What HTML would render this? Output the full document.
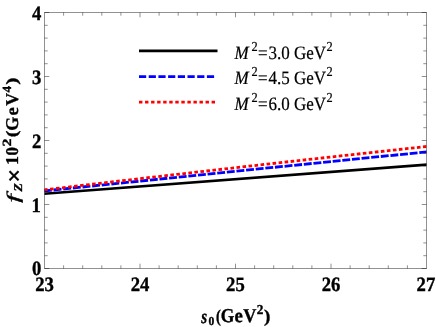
<!DOCTYPE html>
<html><head><meta charset="utf-8"><title>plot</title>
<style>
html,body{margin:0;padding:0;background:#fff;}
body{width:436px;height:327px;position:relative;overflow:hidden;font-family:"Liberation Serif",serif;}
</style></head><body>
<svg width="436" height="327" viewBox="0 0 436 327" style="position:absolute;left:0;top:0;will-change:transform">
<defs><clipPath id="c"><rect x="44.5" y="12.5" width="382.0" height="256.0"/></clipPath></defs>
<g clip-path="url(#c)" fill="none">
<path d="M44,193.75 Q235.75,178.4 427.5,164.6" stroke="#000" stroke-width="2.7"/>
<path d="M44,191.0 Q235.75,171.1 427.5,151.8" stroke="#0000ff" stroke-width="2.8" stroke-dasharray="7.9 1.773"/>
<path d="M44,189.9 Q235.75,167.2 427.5,146.4" stroke="#ff0000" stroke-width="2.8" stroke-dasharray="3.6 2.454"/>
</g>
<g stroke="#000" stroke-opacity="0.43" stroke-width="1" fill="none">
<rect x="44.5" y="12.5" width="382.0" height="256.0" shape-rendering="crispEdges"/>
<line x1="63.60" y1="268.5" x2="63.60" y2="265.3"/>
<line x1="63.60" y1="12.5" x2="63.60" y2="15.7"/>
<line x1="82.70" y1="268.5" x2="82.70" y2="265.3"/>
<line x1="82.70" y1="12.5" x2="82.70" y2="15.7"/>
<line x1="101.80" y1="268.5" x2="101.80" y2="265.3"/>
<line x1="101.80" y1="12.5" x2="101.80" y2="15.7"/>
<line x1="120.90" y1="268.5" x2="120.90" y2="265.3"/>
<line x1="120.90" y1="12.5" x2="120.90" y2="15.7"/>
<line x1="140.00" y1="268.5" x2="140.00" y2="263.7"/>
<line x1="140.00" y1="12.5" x2="140.00" y2="17.3"/>
<line x1="159.10" y1="268.5" x2="159.10" y2="265.3"/>
<line x1="159.10" y1="12.5" x2="159.10" y2="15.7"/>
<line x1="178.20" y1="268.5" x2="178.20" y2="265.3"/>
<line x1="178.20" y1="12.5" x2="178.20" y2="15.7"/>
<line x1="197.30" y1="268.5" x2="197.30" y2="265.3"/>
<line x1="197.30" y1="12.5" x2="197.30" y2="15.7"/>
<line x1="216.40" y1="268.5" x2="216.40" y2="265.3"/>
<line x1="216.40" y1="12.5" x2="216.40" y2="15.7"/>
<line x1="235.50" y1="268.5" x2="235.50" y2="263.7"/>
<line x1="235.50" y1="12.5" x2="235.50" y2="17.3"/>
<line x1="254.60" y1="268.5" x2="254.60" y2="265.3"/>
<line x1="254.60" y1="12.5" x2="254.60" y2="15.7"/>
<line x1="273.70" y1="268.5" x2="273.70" y2="265.3"/>
<line x1="273.70" y1="12.5" x2="273.70" y2="15.7"/>
<line x1="292.80" y1="268.5" x2="292.80" y2="265.3"/>
<line x1="292.80" y1="12.5" x2="292.80" y2="15.7"/>
<line x1="311.90" y1="268.5" x2="311.90" y2="265.3"/>
<line x1="311.90" y1="12.5" x2="311.90" y2="15.7"/>
<line x1="331.00" y1="268.5" x2="331.00" y2="263.7"/>
<line x1="331.00" y1="12.5" x2="331.00" y2="17.3"/>
<line x1="350.10" y1="268.5" x2="350.10" y2="265.3"/>
<line x1="350.10" y1="12.5" x2="350.10" y2="15.7"/>
<line x1="369.20" y1="268.5" x2="369.20" y2="265.3"/>
<line x1="369.20" y1="12.5" x2="369.20" y2="15.7"/>
<line x1="388.30" y1="268.5" x2="388.30" y2="265.3"/>
<line x1="388.30" y1="12.5" x2="388.30" y2="15.7"/>
<line x1="407.40" y1="268.5" x2="407.40" y2="265.3"/>
<line x1="407.40" y1="12.5" x2="407.40" y2="15.7"/>
<line x1="44.5" y1="268.50" x2="49.3" y2="268.50"/>
<line x1="426.5" y1="268.50" x2="421.7" y2="268.50"/>
<line x1="44.5" y1="255.70" x2="47.7" y2="255.70"/>
<line x1="426.5" y1="255.70" x2="423.3" y2="255.70"/>
<line x1="44.5" y1="242.90" x2="47.7" y2="242.90"/>
<line x1="426.5" y1="242.90" x2="423.3" y2="242.90"/>
<line x1="44.5" y1="230.10" x2="47.7" y2="230.10"/>
<line x1="426.5" y1="230.10" x2="423.3" y2="230.10"/>
<line x1="44.5" y1="217.30" x2="47.7" y2="217.30"/>
<line x1="426.5" y1="217.30" x2="423.3" y2="217.30"/>
<line x1="44.5" y1="204.50" x2="49.3" y2="204.50"/>
<line x1="426.5" y1="204.50" x2="421.7" y2="204.50"/>
<line x1="44.5" y1="191.70" x2="47.7" y2="191.70"/>
<line x1="426.5" y1="191.70" x2="423.3" y2="191.70"/>
<line x1="44.5" y1="178.90" x2="47.7" y2="178.90"/>
<line x1="426.5" y1="178.90" x2="423.3" y2="178.90"/>
<line x1="44.5" y1="166.10" x2="47.7" y2="166.10"/>
<line x1="426.5" y1="166.10" x2="423.3" y2="166.10"/>
<line x1="44.5" y1="153.30" x2="47.7" y2="153.30"/>
<line x1="426.5" y1="153.30" x2="423.3" y2="153.30"/>
<line x1="44.5" y1="140.50" x2="49.3" y2="140.50"/>
<line x1="426.5" y1="140.50" x2="421.7" y2="140.50"/>
<line x1="44.5" y1="127.70" x2="47.7" y2="127.70"/>
<line x1="426.5" y1="127.70" x2="423.3" y2="127.70"/>
<line x1="44.5" y1="114.90" x2="47.7" y2="114.90"/>
<line x1="426.5" y1="114.90" x2="423.3" y2="114.90"/>
<line x1="44.5" y1="102.10" x2="47.7" y2="102.10"/>
<line x1="426.5" y1="102.10" x2="423.3" y2="102.10"/>
<line x1="44.5" y1="89.30" x2="47.7" y2="89.30"/>
<line x1="426.5" y1="89.30" x2="423.3" y2="89.30"/>
<line x1="44.5" y1="76.50" x2="49.3" y2="76.50"/>
<line x1="426.5" y1="76.50" x2="421.7" y2="76.50"/>
<line x1="44.5" y1="63.70" x2="47.7" y2="63.70"/>
<line x1="426.5" y1="63.70" x2="423.3" y2="63.70"/>
<line x1="44.5" y1="50.90" x2="47.7" y2="50.90"/>
<line x1="426.5" y1="50.90" x2="423.3" y2="50.90"/>
<line x1="44.5" y1="38.10" x2="47.7" y2="38.10"/>
<line x1="426.5" y1="38.10" x2="423.3" y2="38.10"/>
<line x1="44.5" y1="25.30" x2="47.7" y2="25.30"/>
<line x1="426.5" y1="25.30" x2="423.3" y2="25.30"/>
<line x1="44.5" y1="12.50" x2="49.3" y2="12.50"/>
<line x1="426.5" y1="12.50" x2="421.7" y2="12.50"/>
</g>
<line x1="139" y1="50.9" x2="217.5" y2="50.9" stroke="#000" stroke-width="2.9"/>
<line x1="139" y1="76.6" x2="214.5" y2="76.6" stroke="#0000ff" stroke-width="2.9" stroke-dasharray="7.2 2.5"/>
<line x1="139" y1="102.2" x2="217.5" y2="102.2" stroke="#ff0000" stroke-width="2.8" stroke-dasharray="3.4 2.65"/>
<g font-family="Liberation Serif, serif" font-weight="bold" fill="#000" stroke="#000" stroke-width="0.35" text-rendering="geometricPrecision">
<text transform="translate(41.4,275.4) scale(1,1.09)" font-size="18.7" text-anchor="end" >0</text>
<text transform="translate(40.9,211.6) scale(1,1.09)" font-size="18.7" text-anchor="end" >1</text>
<text transform="translate(41.4,147.9) scale(1,1.09)" font-size="18.7" text-anchor="end" >2</text>
<text transform="translate(41.4,83.6) scale(1,1.09)" font-size="18.7" text-anchor="end" >3</text>
<text transform="translate(41.4,19.7) scale(1,1.09)" font-size="18.7" text-anchor="end" >4</text>
<text transform="translate(44.6,290.5) scale(1,1.09)" font-size="18.7" text-anchor="middle" >23</text>
<text transform="translate(140.0,290.5) scale(1,1.09)" font-size="18.7" text-anchor="middle" >24</text>
<text transform="translate(235.4,290.5) scale(1,1.09)" font-size="18.7" text-anchor="middle" >25</text>
<text transform="translate(331.0,290.5) scale(1,1.09)" font-size="18.7" text-anchor="middle" >26</text>
<text transform="translate(425.9,290.5) scale(1,1.09)" font-size="18.7" text-anchor="middle" >27</text>
<text transform="translate(201.23,322.50) scale(0.840,1.09)" font-size="18" font-weight="bold" font-style="italic">s</text>
<text transform="translate(208.61,325.45) scale(1.005,1.06)" font-size="11.5" font-weight="bold">0</text>
<text transform="translate(216.02,321.50) scale(0.884,1.1)" font-size="16.3" font-weight="bold">(</text>
<text transform="translate(220.79,322.45) scale(0.974,1.09)" font-size="18" font-weight="bold">G</text>
<text transform="translate(234.51,322.45) scale(1.042,1.09)" font-size="18" font-weight="bold">e</text>
<text transform="translate(243.35,322.45) scale(1.008,1.09)" font-size="18" font-weight="bold">V</text>
<text transform="translate(256.69,314.35) scale(1.060,1.09)" font-size="12.5" font-weight="bold">2</text>
<text transform="translate(263.94,321.50) scale(1.170,1.1)" font-size="16.3" font-weight="bold">)</text>
<text transform="translate(18.70,202.79) rotate(-90) scale(1.716,1)" font-size="17.7" font-weight="normal" font-style="italic">f</text>
<text transform="translate(22.10,191.62) rotate(-90) scale(1.120,1)" font-size="12" font-weight="bold" font-style="italic">Z</text>
<text transform="translate(21.80,182.51) rotate(-90) scale(0.990,1)" font-size="24" font-weight="bold">×</text>
<text transform="translate(18.20,164.89) rotate(-90) scale(0.996,1)" font-size="18" font-weight="bold">1</text>
<text transform="translate(18.20,155.39) rotate(-90) scale(0.931,1)" font-size="18" font-weight="bold">0</text>
<text transform="translate(11.15,146.62) rotate(-90) scale(1.272,1)" font-size="12.5" font-weight="bold">2</text>
<text transform="translate(17.40,137.24) rotate(-90) scale(1.273,1)" font-size="15.9" font-weight="bold">(</text>
<text transform="translate(18.20,130.83) rotate(-90) scale(0.998,1)" font-size="18" font-weight="bold">G</text>
<text transform="translate(18.20,115.39) rotate(-90) scale(1.042,1)" font-size="18" font-weight="bold">e</text>
<text transform="translate(18.20,105.85) rotate(-90) scale(0.985,1)" font-size="18" font-weight="bold">V</text>
<text transform="translate(10.80,92.43) rotate(-90) scale(1.043,1)" font-size="12.5" font-weight="bold">4</text>
<text transform="translate(17.40,84.65) rotate(-90) scale(1.371,1)" font-size="15.9" font-weight="bold">)</text>
</g>
<g font-family="Liberation Serif, serif" fill="#000" stroke="#000" stroke-width="0.2" text-rendering="geometricPrecision">
<text transform="translate(234.4,58.5) scale(1,1.11)" font-size="17" text-anchor="start" ><tspan font-style="italic">M</tspan><tspan font-size="12.3" dy="-7.0" dx="2.9">2</tspan><tspan dy="7.0" dx="0.3">=</tspan><tspan dx="0.9">3.0 GeV</tspan><tspan font-size="12.3" dy="-7.0" dx="0.5">2</tspan></text>
<text transform="translate(234.4,84.2) scale(1,1.11)" font-size="17" text-anchor="start" ><tspan font-style="italic">M</tspan><tspan font-size="12.3" dy="-7.0" dx="2.9">2</tspan><tspan dy="7.0" dx="0.3">=</tspan><tspan dx="0.9">4.5 GeV</tspan><tspan font-size="12.3" dy="-7.0" dx="0.5">2</tspan></text>
<text transform="translate(234.4,109.9) scale(1,1.11)" font-size="17" text-anchor="start" ><tspan font-style="italic">M</tspan><tspan font-size="12.3" dy="-7.0" dx="2.9">2</tspan><tspan dy="7.0" dx="0.3">=</tspan><tspan dx="0.9">6.0 GeV</tspan><tspan font-size="12.3" dy="-7.0" dx="0.5">2</tspan></text>
</g>
</svg>
</body></html>
